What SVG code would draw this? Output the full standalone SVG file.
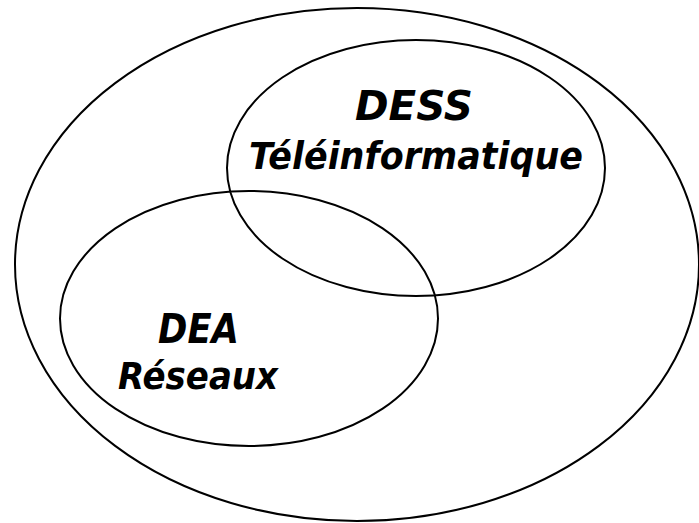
<svg xmlns="http://www.w3.org/2000/svg" width="699" height="523" viewBox="0 0 699 523">
  <style>
    .set { fill: none; stroke: #000; stroke-width: 2; }
    .lbl { font-family: "DejaVu Sans", "Liberation Sans", sans-serif; font-weight: bold; font-style: italic; fill: #000; }
    .big { font-size: 41px; }
    .sub { font-size: 37px; }
  </style>
  <rect x="0" y="0" width="699" height="523" fill="#fff"/>
  <g id="universe">
    <ellipse class="set" cx="357" cy="264.5" rx="342" ry="256.5"/>
  </g>
  <g id="dess">
    <ellipse class="set" cx="416" cy="168" rx="189" ry="128"/>
    <text class="lbl big" x="355" y="120" textLength="118" lengthAdjust="spacingAndGlyphs">DESS</text>
    <text class="lbl sub" x="249" y="169" textLength="334" lengthAdjust="spacingAndGlyphs">Téléinformatique</text>
  </g>
  <g id="dea">
    <ellipse class="set" cx="249" cy="318.5" rx="189" ry="127.5"/>
    <text class="lbl big" x="158" y="343" textLength="81" lengthAdjust="spacingAndGlyphs">DEA</text>
    <text class="lbl sub" x="118" y="389" textLength="160" lengthAdjust="spacingAndGlyphs">Réseaux</text>
  </g>
  <g id="connectors"/>
</svg>
